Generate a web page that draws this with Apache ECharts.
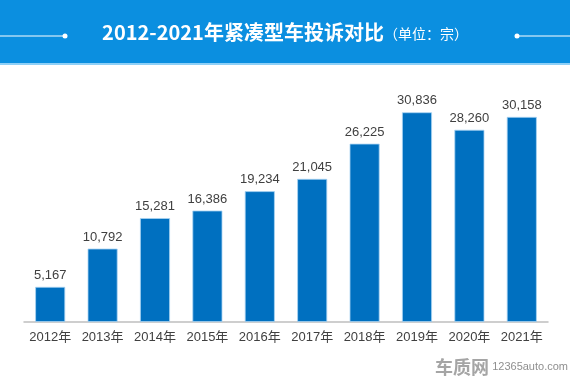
<!DOCTYPE html>
<html><head><meta charset="utf-8">
<script src="https://cdn.jsdelivr.net/npm/echarts@6/dist/echarts.min.js"></script>
<style>html,body{margin:0;padding:0;background:#fff}#c{width:570px;height:380px}</style>
</head><body><div id="c"></div>
<script>
const categories = ['2012年','2013年','2014年','2015年','2016年','2017年','2018年','2019年','2020年','2021年'];
const complaints = [5167,10792,15281,16386,19234,21045,26225,30836,28260,30158];
const titleMain = '2012-2021年紧凑型车投诉对比';
const titleUnit = '（单位：宗）';

const chart = echarts.init(document.getElementById('c'), null, {renderer:'canvas'});
chart.setOption({
  animation:false,
  backgroundColor:'#ffffff',
  graphic:[
    {type:'rect', shape:{x:0,y:0,width:570,height:63}, style:{fill:'#0b8fe0'}, z:0},
    {type:'rect', shape:{x:0,y:63,width:570,height:2}, style:{fill:'#8fd0f7'}, z:0},
    {type:'line', shape:{x1:0,y1:36,x2:64,y2:36}, style:{stroke:'#ffffff',lineWidth:1}, z:1},
    {type:'circle', shape:{cx:65,cy:36,r:2.5}, style:{fill:'#ffffff'}, z:1},
    {type:'line', shape:{x1:518,y1:36,x2:570,y2:36}, style:{stroke:'#ffffff',lineWidth:1}, z:1},
    {type:'circle', shape:{cx:517,cy:36,r:2.5}, style:{fill:'#ffffff'}, z:1},
    {type:'text', left:'center', top:22, z:2, style:{
      text:'{a|'+titleMain+'}{b|'+titleUnit+'}',
      rich:{
        a:{fill:'#ffffff',fontSize:20,fontWeight:'bold',fontFamily:'"Noto Sans CJK SC", sans-serif'},
        b:{fill:'#ffffff',fontSize:14,fontFamily:'"Noto Sans CJK SC", sans-serif',padding:[3,0,0,0]}
      }
    }},
    {type:'text', right:2, top:358, z:2, style:{
      text:'{a|车质网}{b| 12365auto.com}',
      rich:{
        a:{fill:'#a5a5a5',fontSize:18,fontWeight:'bold',fontFamily:'"Noto Sans CJK SC", sans-serif'},
        b:{fill:'#8f8f8f',fontSize:11,fontFamily:'"Liberation Sans", Arial, sans-serif'}
      }
    }}
  ],
  grid:{left:24,right:22,top:84,bottom:58,containLabel:false},
  xAxis:{
    type:'category', data:categories,
    axisLine:{show:true,lineStyle:{color:'#bfbfbf',width:1.5}},
    axisTick:{show:false},
    axisLabel:{color:'#404040',fontSize:13,margin:9,interval:0,fontFamily:'"Liberation Sans", "Noto Sans CJK SC", sans-serif'}
  },
  yAxis:{type:'value',min:0,max:35000,show:false,splitLine:{show:false}},
  series:[{
    type:'bar', data:complaints, barWidth:30,
    itemStyle:{color:'#0070c0',borderColor:'#a9d3f2',borderWidth:0.8},
    label:{show:true,position:'top',distance:5,color:'#404040',fontSize:13,
      fontFamily:'"Liberation Sans", Arial, sans-serif',
      formatter:p=>p.value.toLocaleString('en-US')}
  }]
});
</script></body></html>
